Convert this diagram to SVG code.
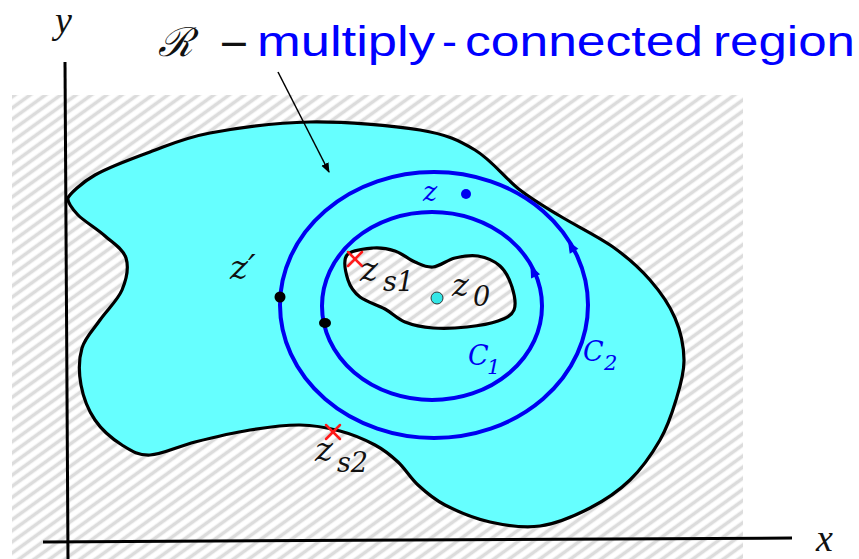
<svg xmlns="http://www.w3.org/2000/svg" width="859" height="559" viewBox="0 0 859 559">
<style>
.outline{stroke:#000;stroke-width:3.2;stroke-linejoin:round}
.contour{fill:none;stroke:#0000f0;stroke-width:4}
.axis{stroke:#000;stroke-width:3;fill:none}
.math{font-family:"DejaVu Serif","Liberation Serif",serif;font-style:italic}
.ax{font-family:"Liberation Serif",serif;font-style:italic;fill:#111}
.dark{fill:#111}
.blue{fill:#0000f0}
.title{font-family:"Liberation Sans",Arial,sans-serif;fill:#0000ff;font-size:42px}
.cross{stroke:#ff1a1a;stroke-width:2.5;stroke-linecap:round}
</style>
<defs>
<pattern id="hatch" patternUnits="userSpaceOnUse" width="9" height="9" patternTransform="rotate(54)">
<rect x="0" y="0" width="9" height="9" fill="#ffffff"/>
<line x1="4.5" y1="-1" x2="4.5" y2="10" stroke="#dcdcdc" stroke-width="3.6"/>
</pattern>
<marker id="ah" viewBox="0 0 10 10" refX="9" refY="5" markerWidth="10" markerHeight="10" markerUnits="userSpaceOnUse" orient="auto">
<path d="M0,1 L10,5 L0,9 Z" fill="#000"/>
</marker>
</defs>
<rect width="859" height="559" fill="#fff"/>
<rect x="12" y="95" width="731" height="464" fill="url(#hatch)"/>
<g id="axes">
<line class="axis" x1="65" y1="62" x2="68" y2="559"/>
<line class="axis" x1="43" y1="542" x2="792" y2="538"/>
<text class="ax" x="55" y="33" font-size="38">y</text>
<text class="ax" x="816" y="551" font-size="38">x</text>
</g>
<g id="region">
<path class="outline" fill="#66ffff" d="M68,198 C69,195 81.3,182.7 95,175 C108.7,167.3 130.8,159 150,152 C169.2,145 183.3,138 210,133 C236.7,128 275,122.5 310,122 C345,121.5 392.5,125.3 420,130 C447.5,134.7 458.3,140 475,150 C491.7,160 505.8,179 520,190 C534.2,201 544.5,206.5 560,216 C575.5,225.5 598,236.3 613,247 C628,257.7 639.7,268.2 650,280 C660.3,291.8 669.3,304.7 675,318 C680.7,331.3 683.8,346.3 684,360 C684.2,373.7 680,386.7 676,400 C672,413.3 667.7,426.7 660,440 C652.3,453.3 641.7,468.7 630,480 C618.3,491.3 605,500.3 590,508 C575,515.7 556.7,523.7 540,526 C523.3,528.3 505.8,525.5 490,522 C474.2,518.5 457,511.2 445,505 C433,498.8 425.8,492.2 418,485 C410.2,477.8 405.2,468.7 398,462 C390.8,455.3 384.7,450.2 375,445 C365.3,439.8 352.5,434.3 340,431 C327.5,427.7 315,425.2 300,425 C285,424.8 267.5,427.2 250,430 C232.5,432.8 211.7,437.8 195,442 C178.3,446.2 162.2,454.5 150,455 C137.8,455.5 131.2,450.8 122,445 C112.8,439.2 101.8,430 95,420 C88.2,410 83.2,397 81,385 C78.8,373 78.8,358.8 82,348 C85.2,337.2 93.3,329.7 100,320 C106.7,310.3 117.7,300.3 122,290 C126.3,279.7 128.8,267 126,258 C123.2,249 113,243.2 105,236 C97,228.8 84.2,221.3 78,215 C71.8,208.7 67,201 68,198 Z"/>
</g>
<g id="hole">
<path class="outline" fill="url(#hatch)" d="M347,255 C351.2,249.7 365,248.7 373,248 C381,247.3 388,248.7 395,251 C402,253.3 408.7,259.3 415,262 C421.3,264.7 426.3,267.7 433,267 C439.7,266.3 447.5,259.8 455,258 C462.5,256.2 470.5,254.7 478,256 C485.5,257.3 494.3,260.8 500,266 C505.7,271.2 509.7,279.7 512,287 C514.3,294.3 516.3,304.3 514,310 C511.7,315.7 505.8,318.2 498,321 C490.2,323.8 477.8,325.8 467,327 C456.2,328.2 443.3,328.8 433,328 C422.7,327.2 413,325.2 405,322 C397,318.8 392.5,313.2 385,309 C377.5,304.8 366.2,301.8 360,297 C353.8,292.2 350.2,287 348,280 C345.8,273 342.8,260.3 347,255 Z"/>
</g>
<g id="C2">
<ellipse class="contour" cx="434" cy="305" rx="154" ry="133"/>
<polygon transform="translate(571,246) rotate(-120.3)" points="6,0 -6,-5 -6,5" fill="#0000f0"/>
<text class="math blue" x="583" y="361" font-size="27">C</text>
<text class="math blue" x="604" y="370" font-size="21">2</text>
</g>
<g id="C1">
<ellipse class="contour" cx="432" cy="306" rx="110" ry="94"/>
<polygon transform="translate(533,271) rotate(-115.8)" points="6,0 -6,-5 -6,5" fill="#0000f0"/>
<text class="math blue" x="468" y="365" font-size="27">C</text>
<text class="math blue" x="487" y="374" font-size="21">1</text>
</g>
<g id="z">
<circle cx="466" cy="194" r="5" fill="#0000f0"/>
<text class="math blue" x="423" y="201" font-size="27">z</text>
</g>
<g id="zprime">
<circle cx="280" cy="297" r="5.5" fill="#000"/>
<text class="math dark" x="230" y="279" font-size="34">z′</text>
</g>
<g id="z1pt">
<ellipse cx="325" cy="323" rx="6" ry="5" fill="#000"/>
</g>
<g id="z0">
<circle cx="437" cy="298" r="6" fill="#33e6e6" stroke="#333" stroke-width="1"/>
<text class="math dark" x="452" y="296" font-size="32">z</text>
<text class="math dark" x="473" y="306" font-size="27">0</text>
</g>
<g id="zs1">
<line class="cross" x1="348" y1="252" x2="362" y2="266"/>
<line class="cross" x1="362" y1="252" x2="348" y2="266"/>
<text class="math dark" x="360" y="281" font-size="34">z</text>
<text class="math dark" x="383" y="291" font-size="27">s1</text>
</g>
<g id="zs2">
<line class="cross" x1="326" y1="425" x2="340" y2="439"/>
<line class="cross" x1="340" y1="425" x2="326" y2="439"/>
<text class="math dark" x="315" y="461" font-size="34">z</text>
<text class="math dark" x="337" y="472" font-size="27">s2</text>
</g>
<g id="title">
<text class="math dark" x="158" y="56" font-size="40" font-style="normal">ℛ</text>
<text class="dark" x="218" y="56" font-size="38" font-family="DejaVu Sans, sans-serif">−</text>
<text class="title" x="257" y="56" textLength="178" lengthAdjust="spacingAndGlyphs">multiply</text>
<text class="title" x="442" y="56" textLength="15" lengthAdjust="spacingAndGlyphs">-</text>
<text class="title" x="465" y="56" textLength="238" lengthAdjust="spacingAndGlyphs">connected</text>
<text class="title" x="713" y="56" textLength="142" lengthAdjust="spacingAndGlyphs">region</text>
</g>
<g id="connectors">
<line x1="278" y1="72" x2="329" y2="172" stroke="#000" stroke-width="1.5" marker-end="url(#ah)"/>
</g>
</svg>
